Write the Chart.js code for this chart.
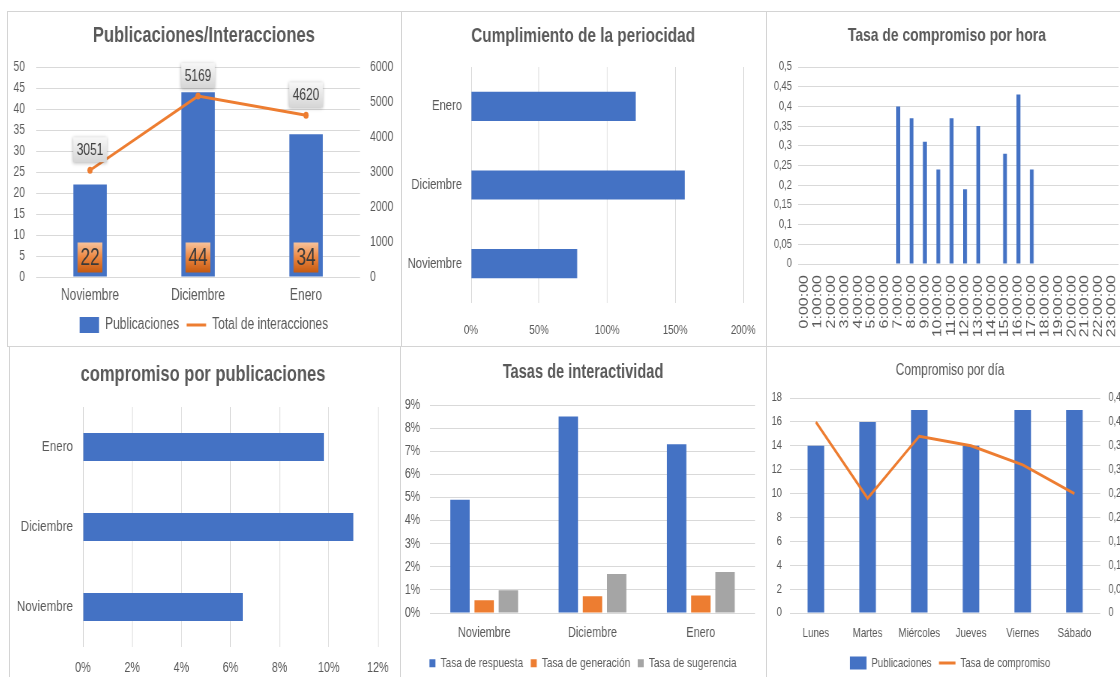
<!DOCTYPE html>
<html>
<head>
<meta charset="utf-8">
<script src="https://cdn.jsdelivr.net/npm/chart.js@4.4.1/dist/chart.umd.min.js"></script>
<style>
  body { margin: 0; background: #fff; overflow: hidden; width: 1120px; height: 677px; position: relative }
  canvas { position: absolute; transform: scaleX(0.75); transform-origin: 0 0 }
  .marco { position: absolute; box-sizing: border-box; border: 1px solid #d4d4d4; z-index: 2 }
</style>
</head>
<body>
<div class="marco" style="left:7px;top:11px;width:395px;height:336px"></div>
<div class="marco" style="left:401px;top:11px;width:366px;height:336px"></div>
<div class="marco" style="left:766px;top:11px;width:370px;height:336px"></div>
<div class="marco" style="left:9px;top:346px;width:392px;height:340px"></div>
<div class="marco" style="left:400px;top:346px;width:367px;height:340px"></div>
<div class="marco" style="left:766px;top:346px;width:370px;height:340px"></div>
<canvas id="c1" width="525" height="334" style="left:7px;top:12px"></canvas>
<canvas id="c2" width="499" height="334" style="left:396px;top:12px"></canvas>
<canvas id="c3" width="501" height="334" style="left:759px;top:12px"></canvas>
<canvas id="c4" width="520" height="340" style="left:8px;top:347px"></canvas>
<canvas id="c5" width="488" height="340" style="left:400px;top:347px"></canvas>
<canvas id="c6" width="491" height="340" style="left:766px;top:347px"></canvas>
<script>
// datos
var meses = ['Noviembre', 'Diciembre', 'Enero']
var publicaciones = [22, 44, 34]
var interacciones = [3051, 5169, 4620]
var periocidad = [0.78, 1.57, 1.21]
var compromisoPub = [0.065, 0.11, 0.098]
var tasaRespuesta = [0.049, 0.085, 0.073]
var tasaGeneracion = [0.0055, 0.0072, 0.0076]
var tasaSugerencia = [0.0098, 0.0169, 0.0177]
var horas = ['0:00:00', '1:00:00', '2:00:00', '3:00:00', '4:00:00', '5:00:00', '6:00:00', '7:00:00',
  '8:00:00', '9:00:00', '10:00:00', '11:00:00', '12:00:00', '13:00:00', '14:00:00', '15:00:00',
  '16:00:00', '17:00:00', '18:00:00', '19:00:00', '20:00:00', '21:00:00', '22:00:00', '23:00:00']
var tasaHora = [0, 0, 0, 0, 0, 0, 0, 0.40, 0.37, 0.31, 0.24, 0.37, 0.19, 0.35, 0, 0.28, 0.43, 0.24, 0, 0, 0, 0, 0, 0]
var dias = ['Lunes', 'Martes', 'Miércoles', 'Jueves', 'Viernes', 'Sábado']
var pubDia = [14, 16, 17, 14, 17, 17]
var tasaDia = [0.40, 0.24, 0.37, 0.35, 0.31, 0.25]

var AZUL = '#4472c4'
var NARANJA = '#ed7d31'
var GRIS = '#a5a5a5'
var GRID = '#d9d9d9'
var FONT = "'Liberation Sans', Arial, sans-serif"

Chart.defaults.font.family = FONT
Chart.defaults.font.size = 14
Chart.defaults.color = '#595959'
Chart.defaults.animation = false
Chart.defaults.plugins.tooltip.enabled = false

function fijar (prop, valor) {
  return function (scale) { scale[prop] = valor }
}
function pct (v) { return Math.round(v * 100) + '%' }
function coma (v) { return String(Math.round(v * 100) / 100).replace('.', ',') }
function entero (v) { return String(v) }

function titulo (texto, size, bold, top, bottom) {
  return {
    display: true, text: texto, color: '#595959',
    font: { size: size, weight: bold ? 'bold' : 'normal' },
    padding: { top: top, bottom: bottom }
  }
}

var SIN_GRID = { display: false, drawTicks: false }
var CON_GRID = { color: GRID, drawTicks: false }

// eje vacio que solo reserva margen a la derecha
function margen (tipo, ancho) {
  return {
    type: tipo, position: 'right', grid: SIN_GRID, border: { display: false },
    ticks: { display: false }, afterFit: fijar('width', ancho)
  }
}

// etiquetas de datos del primer grafico
var etiquetas = {
  id: 'etiquetas',
  afterDatasetsDraw: function (chart) {
    var ctx = chart.ctx
    var barras = chart.getDatasetMeta(0)
    var linea = chart.getDatasetMeta(1)
    ctx.save()
    ctx.textAlign = 'center'
    ctx.textBaseline = 'middle'
    barras.data.forEach(function (bar, i) {
      var w = 33, h = 30
      var y = bar.base - 4
      var g = ctx.createLinearGradient(0, y - h, 0, y)
      g.addColorStop(0, '#f8c39c')
      g.addColorStop(0.5, '#ec8640')
      g.addColorStop(1, '#c55a11')
      ctx.fillStyle = g
      ctx.fillRect(bar.x - w / 2, y - h, w, h)
      ctx.fillStyle = '#3a3a3a'
      ctx.font = '23px ' + FONT
      ctx.fillText(publicaciones[i], bar.x, y - h / 2 + 1)
    })
    linea.data.forEach(function (pt, i) {
      var w = 45, h = 25
      var y = pt.y - 8
      ctx.shadowColor = 'rgba(0,0,0,0.3)'
      ctx.shadowBlur = 4
      ctx.shadowOffsetY = 1
      var g = ctx.createLinearGradient(0, y - h, 0, y)
      g.addColorStop(0, '#f7f7f7')
      g.addColorStop(1, '#d6d6d6')
      ctx.fillStyle = g
      ctx.fillRect(pt.x - w / 2, y - h, w, h)
      ctx.shadowColor = 'transparent'
      ctx.fillStyle = '#404040'
      ctx.font = '16px ' + FONT
      ctx.fillText(interacciones[i], pt.x, y - h / 2 + 1)
    })
    ctx.restore()
  }
}

function leyendaMixta (chart) {
  var items = Chart.defaults.plugins.legend.labels.generateLabels(chart)
  items.forEach(function (it) {
    var ds = chart.data.datasets[it.datasetIndex]
    if (ds.type === 'line') {
      it.pointStyle = 'line'
      it.lineWidth = 3
      it.strokeStyle = NARANJA
    } else {
      it.pointStyle = 'rect'
      it.lineWidth = 0
    }
  })
  return items.sort(function (a, b) { return a.datasetIndex - b.datasetIndex })
}

// 1. Publicaciones/Interacciones
new Chart(document.getElementById('c1'), {
  type: 'bar',
  data: {
    labels: meses,
    datasets: [
      { label: 'Publicaciones', data: publicaciones, backgroundColor: AZUL, yAxisID: 'y', barPercentage: 0.31, categoryPercentage: 1 },
      { type: 'line', label: 'Total de interacciones', data: interacciones, yAxisID: 'y2', order: -1,
        borderColor: NARANJA, backgroundColor: NARANJA, borderWidth: 3, pointRadius: 3.5, pointBorderWidth: 0 }
    ]
  },
  options: {
    responsive: false,
    layout: { padding: { left: 0, right: 0, top: 0, bottom: 3 } },
    plugins: {
      title: titulo('Publicaciones/Interacciones', 22, true, 10.8, 17.8),
      legend: {
        position: 'bottom',
        labels: { usePointStyle: true, pointStyleWidth: 26, boxHeight: 16, padding: 10, font: { size: 16 }, generateLabels: leyendaMixta }
      }
    },
    scales: {
      x: { grid: SIN_GRID, border: { display: false }, ticks: { padding: 9.4, font: { size: 16 } }, afterFit: fijar('height', 30) },
      y: { position: 'left', min: 0, max: 50, ticks: { stepSize: 5, padding: 14.7 }, grid: CON_GRID, border: { display: false }, afterFit: fijar('width', 38.7) },
      y2: { position: 'right', min: 0, max: 6000, ticks: { stepSize: 1000, padding: 13.3, callback: entero }, grid: SIN_GRID, border: { display: false }, afterFit: fijar('width', 54.3) }
    }
  },
  plugins: [etiquetas]
})

// 2. Cumplimiento de la periocidad
new Chart(document.getElementById('c2'), {
  type: 'bar',
  data: {
    labels: meses,
    datasets: [{ label: 'Cumplimiento', data: periocidad, backgroundColor: AZUL, barPercentage: 0.37, categoryPercentage: 1 }]
  },
  options: {
    responsive: false,
    indexAxis: 'y',
    plugins: { title: titulo('Cumplimiento de la periocidad', 20.5, true, 11.7, 18.7), legend: { display: false } },
    scales: {
      x: { min: 0, max: 2, ticks: { stepSize: 0.5, callback: pct, padding: 19.2, font: { size: 13 } }, grid: CON_GRID, border: { display: false }, afterFit: fijar('height', 43) },
      y: { type: 'category', reverse: true, grid: SIN_GRID, border: { display: false }, ticks: { padding: 12, font: { size: 15 } }, afterFit: fijar('width', 100) },
      yd: margen('category', 36)
    }
  }
})

// 3. Tasa de compromiso por hora
new Chart(document.getElementById('c3'), {
  type: 'bar',
  data: {
    labels: horas,
    datasets: [{ label: 'Tasa', data: tasaHora, backgroundColor: AZUL, barPercentage: 0.29, categoryPercentage: 1 }]
  },
  options: {
    responsive: false,
    plugins: { title: titulo('Tasa de compromiso por hora', 18.5, true, 12.9, 19.9), legend: { display: false } },
    scales: {
      x: {
        grid: SIN_GRID, border: { display: false },
        ticks: { autoSkip: false, maxRotation: 90, minRotation: 90, padding: 11, font: { size: 16 } },
        afterFit: fijar('height', 82)
      },
      y: { min: 0, max: 0.5, ticks: { stepSize: 0.05, callback: coma, padding: 8, font: { size: 12.5 } }, grid: CON_GRID, border: { display: false }, afterFit: fijar('width', 52) },
      yd: margen('linear', 12)
    }
  }
})

// 4. compromiso por publicaciones
new Chart(document.getElementById('c4'), {
  type: 'bar',
  data: {
    labels: meses,
    datasets: [{ label: 'Compromiso', data: compromisoPub, backgroundColor: AZUL, barPercentage: 0.35, categoryPercentage: 1 }]
  },
  options: {
    responsive: false,
    indexAxis: 'y',
    plugins: { title: titulo('compromiso por publicaciones', 22, true, 14.8, 18.8), legend: { display: false } },
    scales: {
      x: { min: 0, max: 0.12, ticks: { stepSize: 0.02, callback: pct, padding: 12.4, font: { size: 14.4 } }, grid: CON_GRID, border: { display: false }, afterFit: fijar('height', 40) },
      y: { type: 'category', reverse: true, grid: SIN_GRID, border: { display: false }, ticks: { padding: 13.3, font: { size: 15.5 } }, afterFit: fijar('width', 100) },
      yd: margen('category', 26.7)
    }
  }
})

// 5. Tasas de interactividad
new Chart(document.getElementById('c5'), {
  type: 'bar',
  data: {
    labels: meses,
    datasets: [
      { label: 'Tasa de respuesta', data: tasaRespuesta, backgroundColor: AZUL, barPercentage: 0.8, categoryPercentage: 0.67 },
      { label: 'Tasa de generación', data: tasaGeneracion, backgroundColor: NARANJA, barPercentage: 0.8, categoryPercentage: 0.67 },
      { label: 'Tasa de sugerencia', data: tasaSugerencia, backgroundColor: GRIS, barPercentage: 0.8, categoryPercentage: 0.67 }
    ]
  },
  options: {
    responsive: false,
    layout: { padding: { bottom: 7 } },
    plugins: {
      title: titulo('Tasas de interactividad', 19.5, true, 14.3, 20.3),
      legend: { position: 'bottom', labels: { boxWidth: 8, boxHeight: 8, padding: 10, font: { size: 13.5 } } }
    },
    scales: {
      x: { grid: SIN_GRID, border: { display: false }, ticks: { padding: 11.3, font: { size: 14.5 } }, afterFit: fijar('height', 33.5) },
      y: { min: 0, max: 0.09, ticks: { stepSize: 0.01, callback: pct, padding: 13.3 }, grid: CON_GRID, border: { display: false }, afterFit: fijar('width', 40) },
      yd: margen('linear', 14.7)
    }
  }
})

// 6. Compromiso por dia
new Chart(document.getElementById('c6'), {
  type: 'bar',
  data: {
    labels: dias,
    datasets: [
      { label: 'Publicaciones', data: pubDia, backgroundColor: AZUL, yAxisID: 'y', barPercentage: 0.32, categoryPercentage: 1 },
      { type: 'line', label: 'Tasa de compromiso', data: tasaDia, yAxisID: 'y2', order: -1,
        borderColor: NARANJA, backgroundColor: NARANJA, borderWidth: 3, pointRadius: 0 }
    ]
  },
  options: {
    responsive: false,
    layout: { padding: { bottom: 7.5 } },
    plugins: {
      title: titulo('Compromiso por día', 16, false, 14.4, 17.4),
      legend: {
        position: 'bottom',
        labels: { usePointStyle: true, pointStyleWidth: 22, boxHeight: 13, padding: 10, font: { size: 13 }, generateLabels: leyendaMixta }
      }
    },
    scales: {
      x: { grid: SIN_GRID, border: { display: false }, ticks: { padding: 12.2, maxRotation: 0, autoSkip: false, font: { size: 13 } }, afterFit: fijar('height', 33.5) },
      y: { position: 'left', min: 0, max: 18, ticks: { stepSize: 2, padding: 10.7, font: { size: 12.5 } }, grid: CON_GRID, border: { display: false }, afterFit: fijar('width', 32) },
      y2: { position: 'right', min: 0, max: 0.45, ticks: { stepSize: 0.05, callback: coma, padding: 10.7, font: { size: 12.5 } }, grid: SIN_GRID, border: { display: false }, afterFit: fijar('width', 45.3) }
    }
  }
})
</script>
</body>
</html>
